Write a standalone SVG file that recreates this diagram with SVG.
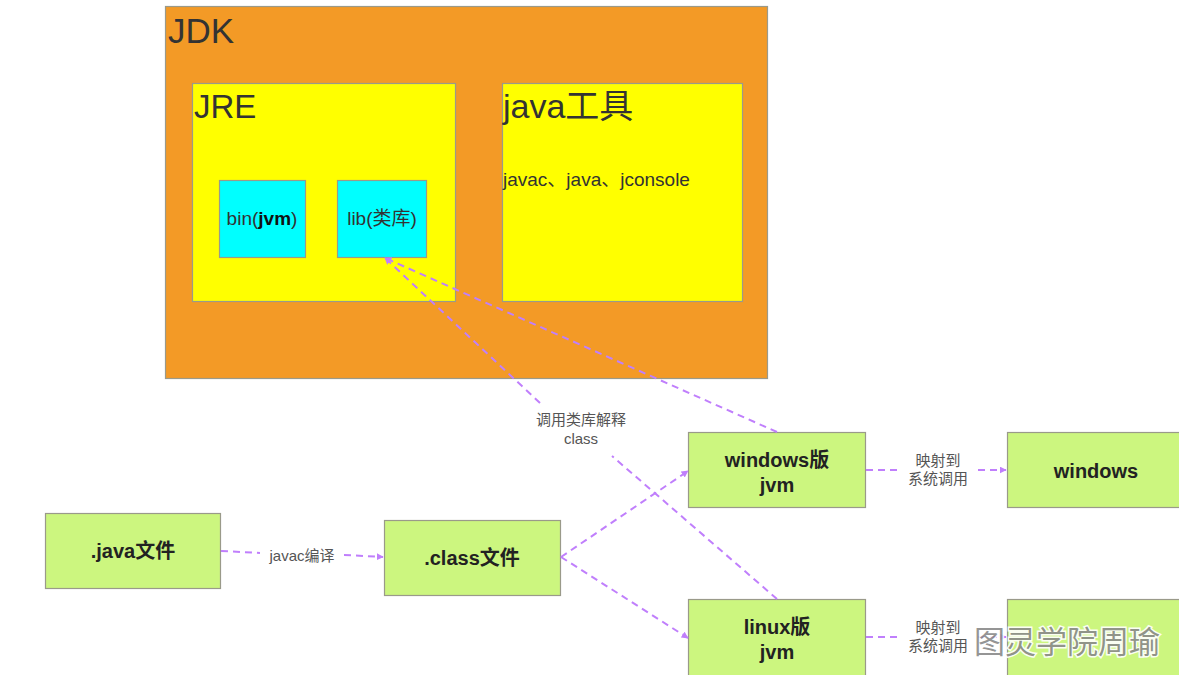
<svg xmlns="http://www.w3.org/2000/svg" width="1179" height="675" viewBox="0 0 1179 675">
<defs>
<style>
.box{stroke:#9a9a8a;stroke-width:1.2}
.g{fill:#ccf67f}
.lbl{font-family:"Liberation Sans","Noto Sans CJK SC",sans-serif;fill:#333}
.nt{font-family:"Liberation Sans","Noto Sans CJK SC",sans-serif;font-weight:bold;font-size:20px;fill:#222;text-anchor:middle}
.el{font-family:"Liberation Sans","Noto Sans CJK SC",sans-serif;font-size:15px;fill:#555;text-anchor:middle}
.c{fill:none;stroke:#c07ffc;stroke-width:2;stroke-dasharray:7 5}
</style>
<marker id="ah" viewBox="0 0 10 10" refX="9" refY="5" markerWidth="7" markerHeight="7" markerUnits="userSpaceOnUse" orient="auto">
<path d="M0,0 L10,5 L0,10 z" fill="#c07ffc"/>
</marker>
</defs>
<rect width="1179" height="675" fill="#fff"/>
<g id="jdk">
<rect class="box" x="165.5" y="6.5" width="602" height="372" fill="#f39a26"/>
<text class="lbl" x="168" y="43" font-size="35">JDK</text>
</g>
<g id="jre">
<rect class="box" x="192.5" y="83.5" width="263" height="218" fill="#ffff00"/>
<text class="lbl" x="194" y="118" font-size="33">JRE</text>
</g>
<g id="tools">
<rect class="box" x="502.5" y="83.5" width="240" height="218" fill="#ffff00"/>
<text class="lbl" x="503" y="118" font-size="34">java工具</text>
<text class="lbl" x="503" y="186" font-size="19">javac、java、jconsole</text>
</g>
<g id="bin">
<rect class="box" x="219.5" y="180.5" width="86" height="77" fill="#00ffff"/>
<text class="lbl" x="262" y="225" font-size="19" text-anchor="middle">bin(<tspan font-weight="bold" fill="#111">jvm</tspan>)</text>
</g>
<g id="lib">
<rect class="box" x="337.5" y="180.5" width="89" height="77" fill="#00ffff"/>
<text class="lbl" x="382" y="225" font-size="19" text-anchor="middle">lib(类库)</text>
</g>
<g id="javafile">
<rect class="box g" x="45.5" y="513.5" width="175" height="75"/>
<text class="nt" x="133" y="558">.java文件</text>
</g>
<g id="classfile">
<rect class="box g" x="384.5" y="520.5" width="176" height="75"/>
<text class="nt" x="472" y="565">.class文件</text>
</g>
<g id="winjvm">
<rect class="box g" x="688.5" y="432.5" width="177" height="75"/>
<text class="nt" x="777" y="467">windows版</text>
<text class="nt" x="777" y="492">jvm</text>
</g>
<g id="windows">
<rect class="box g" x="1007.5" y="432.5" width="180" height="75"/>
<text class="nt" x="1096" y="478">windows</text>
</g>
<g id="linuxjvm">
<rect class="box g" x="688.5" y="599.5" width="177" height="80"/>
<text class="nt" x="777" y="634">linux版</text>
<text class="nt" x="777" y="659">jvm</text>
</g>
<g id="linux">
<rect class="box g" x="1007.5" y="599.5" width="180" height="80"/>
</g>
<g id="connectors">
<path class="c" d="M221,551 L260,553"/>
<path class="c" d="M344,555 L383,557" marker-end="url(#ah)"/>
<text class="el" x="302" y="561">javac编译</text>
<path class="c" d="M561,557 L688,471" marker-end="url(#ah)"/>
<path class="c" d="M561,557 L688,638" marker-end="url(#ah)"/>
<path class="c" d="M866,470 L898,470"/>
<path class="c" d="M978,470 L1006,470" marker-end="url(#ah)"/>
<text class="el" x="938" y="466">映射到</text>
<text class="el" x="938" y="484">系统调用</text>
<path class="c" d="M866,637 L898,637"/>
<path class="c" d="M978,637 L1006,637" marker-end="url(#ah)"/>
<text class="el" x="938" y="633">映射到</text>
<text class="el" x="938" y="651">系统调用</text>
<path class="c" d="M777,432 L385,258" marker-end="url(#ah)"/>
<path class="c" d="M777,599 L612,456"/>
<path class="c" d="M540,403 L385,258" marker-end="url(#ah)"/>
<text class="el" x="581" y="425">调用类库解释</text>
<text class="el" x="581" y="444">class</text>
</g>
<text x="974" y="653" font-family="'Noto Sans CJK SC',sans-serif" font-size="31" fill="#8a8a8a" stroke="#fff" stroke-width="3" paint-order="stroke" opacity="0.9">图灵学院周瑜</text>
</svg>
